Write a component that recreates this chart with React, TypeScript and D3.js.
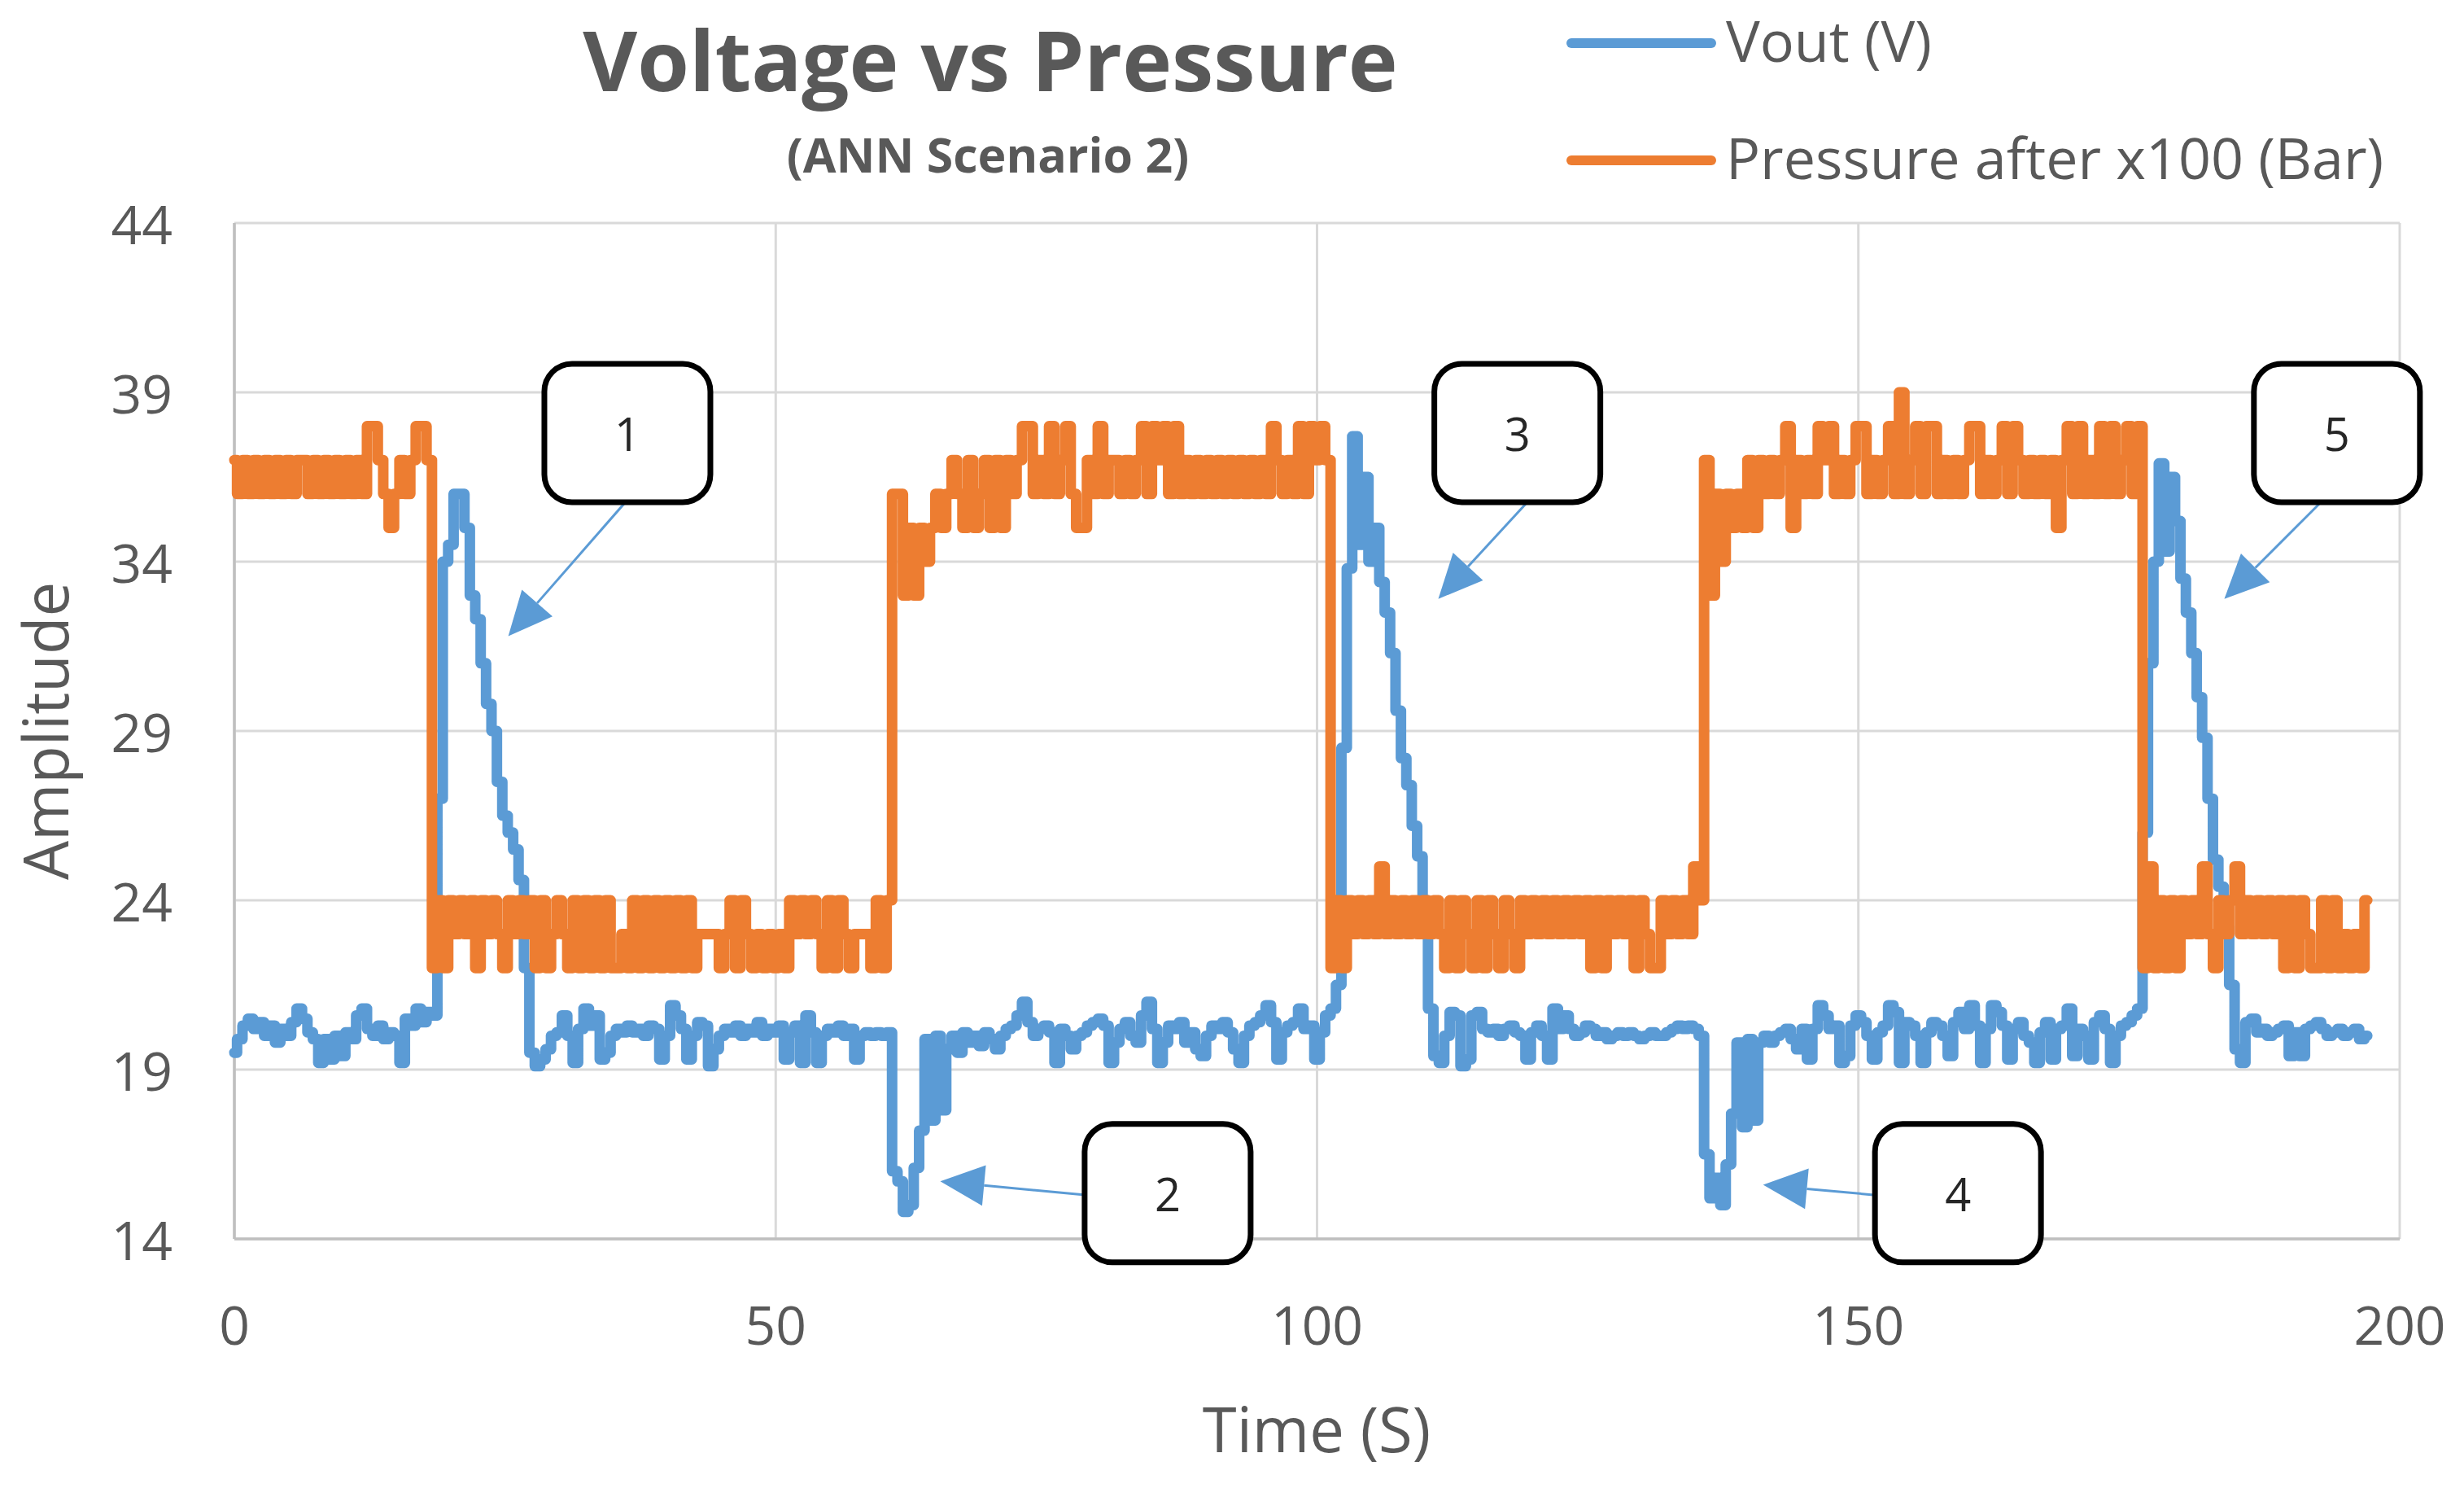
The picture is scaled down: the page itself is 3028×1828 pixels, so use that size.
import React from 'react';
import * as d3 from 'd3';

const W = 3028;
const H = 1828;

// sampling interval of the recorded series (seconds)
const T_STEP = 0.5;

const xTicks = [0, 50, 100, 150, 200];
const yTicks = [14, 19, 24, 29, 34, 39, 44];

const seriesNames = ['Vout (V)', 'Pressure after x100 (Bar)'];
const seriesColors = ['#5b9bd5', '#ed7d31'];

// Vout (V), one value every 0.5 s from t = 0 to t = 197
const vout = [
  19.5, 19.9, 20.3, 20.5, 20.2, 20.4, 20.0, 20.3, 19.8, 20.2,
  20.0, 20.4, 20.8, 20.5, 20.1, 19.9, 19.2, 19.9, 19.3, 20.0,
  19.4, 20.1, 19.9, 20.6, 20.8, 20.2, 20.0, 20.3, 19.9, 20.1,
  20.0, 19.2, 20.5, 20.3, 20.8, 20.4, 20.7, 20.6, 27.0, 34.0,
  34.5, 36.0, 36.0, 35.0, 33.0, 32.3, 31.0, 29.8, 29.0, 27.5,
  26.5, 26.0, 25.5, 24.6, 22.0, 19.5, 19.1, 19.3, 19.6, 20.0,
  20.1, 20.6, 20.0, 19.2, 20.2, 20.8, 20.3, 20.6, 19.3, 19.5,
  20.0, 20.2, 20.1, 20.3, 20.1, 20.2, 20.0, 20.3, 20.2, 19.3,
  20.0, 20.9, 20.6, 20.2, 19.3, 20.0, 20.4, 20.3, 19.1, 19.6,
  20.0, 20.2, 20.1, 20.3, 20.0, 20.2, 20.1, 20.4, 20.0, 20.2,
  20.1, 20.3, 19.3, 20.1, 20.3, 19.2, 20.6, 20.1, 19.2, 20.0,
  20.2, 20.1, 20.3, 20.0, 20.2, 19.3, 20.0, 20.1, 20.0, 20.1,
  20.0, 20.1, 16.0, 15.7, 14.8, 15.0, 16.1, 17.2, 19.9, 17.5,
  20.0, 17.8, 19.6, 20.0, 19.5, 20.1, 19.8, 20.0, 19.7, 20.1,
  19.9, 19.6, 20.0, 20.2, 20.3, 20.6, 21.0, 20.4, 20.0, 20.2,
  20.3, 20.1, 19.2, 20.2, 20.0, 19.6, 20.0, 20.1, 20.3, 20.4,
  20.5, 20.3, 19.2, 19.8, 20.2, 20.4, 20.0, 19.8, 20.6, 21.0,
  20.2, 19.2, 19.8, 20.3, 20.2, 20.4, 19.8, 20.1, 19.6, 19.4,
  20.0, 20.3, 20.2, 20.4, 20.1, 19.6, 19.2, 20.0, 20.3, 20.4,
  20.6, 20.9, 20.4, 19.3, 20.1, 20.3, 20.4, 20.8, 20.2, 20.3,
  19.3, 20.1, 20.6, 20.8, 21.5, 28.5, 33.8, 37.7, 34.5, 36.5,
  34.0, 35.0, 33.4, 32.5, 31.3, 29.6, 28.2, 27.4, 26.2, 25.3,
  24.0, 20.8, 19.4, 19.2, 20.0, 20.7, 20.6, 19.1, 19.3, 20.6,
  20.7, 20.2, 20.1, 20.2, 20.0, 20.2, 20.3, 20.1, 20.0, 19.3,
  20.1, 20.3, 20.0, 19.3, 20.8, 20.2, 20.6, 20.2, 20.0, 20.1,
  20.3, 20.2, 20.0, 20.1, 19.9, 20.0, 20.1, 20.0, 20.1, 20.0,
  19.9, 20.0, 20.1, 20.0, 20.0, 20.1, 20.2, 20.3, 20.2, 20.3,
  20.2, 20.0, 16.5, 15.2, 15.8, 15.0, 16.2, 17.7, 19.8, 17.3,
  19.9, 17.5, 19.8, 20.0, 19.8, 20.0, 20.1, 20.2, 19.9, 19.6,
  20.2, 19.3, 20.2, 20.9, 20.6, 20.2, 20.3, 19.2, 19.4, 20.3,
  20.6, 20.4, 20.0, 19.3, 20.1, 20.3, 20.9, 20.7, 19.2, 20.4,
  20.3, 20.0, 19.2, 20.1, 20.4, 20.3, 20.0, 19.4, 20.4, 20.7,
  20.2, 20.9, 20.3, 19.2, 20.2, 20.9, 20.7, 20.3, 19.3, 20.2,
  20.4, 20.0, 19.8, 19.2, 20.1, 20.4, 19.3, 20.2, 20.3, 20.8,
  19.4, 20.2, 20.0, 19.3, 20.4, 20.6, 20.2, 19.2, 20.0, 20.3,
  20.4, 20.6, 20.8, 26.0, 31.0, 34.0, 36.9, 34.3, 36.5, 35.2,
  33.5, 32.5, 31.3, 30.0, 28.8, 27.0, 25.2, 24.4, 23.2, 21.5,
  19.6, 19.2, 20.4, 20.5, 20.1, 20.2, 20.0, 20.1, 20.2, 20.3,
  19.4, 20.1, 19.4, 20.2, 20.3, 20.4, 20.2, 20.0, 20.1, 20.2,
  20.0, 20.1, 20.2, 19.9, 20.0,
];

// Pressure after x100 (Bar), one value every 0.5 s from t = 0 to t = 197
const pressure = [
  37, 36, 37, 36, 37, 36, 37, 36, 37, 36,
  37, 36, 37, 37, 36, 37, 36, 37, 36, 37,
  36, 37, 36, 37, 36, 38, 38, 37, 36, 35,
  36, 37, 36, 37, 38, 38, 37, 22, 24, 22,
  24, 23, 24, 23, 24, 22, 24, 23, 24, 23,
  22, 24, 23, 24, 23, 24, 22, 24, 22, 23,
  24, 23, 22, 24, 22, 24, 22, 24, 22, 24,
  22, 22, 23, 22, 24, 22, 24, 22, 24, 22,
  24, 22, 24, 22, 24, 22, 23, 23, 23, 23,
  22, 23, 24, 22, 24, 23, 22, 23, 22, 23,
  22, 23, 22, 24, 23, 24, 23, 24, 23, 22,
  24, 22, 24, 23, 22, 23, 23, 23, 22, 24,
  22, 24, 36, 36, 33, 35, 33, 35, 34, 35,
  36, 35, 36, 37, 36, 35, 37, 35, 36, 37,
  35, 37, 35, 37, 36, 37, 38, 38, 36, 37,
  36, 38, 36, 37, 38, 36, 35, 35, 37, 36,
  38, 36, 37, 37, 36, 37, 36, 37, 38, 36,
  38, 37, 38, 36, 38, 36, 37, 36, 37, 36,
  37, 36, 37, 36, 37, 36, 37, 36, 37, 36,
  37, 36, 38, 37, 36, 37, 36, 38, 36, 38,
  37, 38, 37, 22, 24, 22, 24, 23, 24, 23,
  24, 23, 25, 23, 24, 23, 24, 23, 24, 23,
  24, 23, 24, 23, 22, 24, 22, 24, 23, 22,
  24, 22, 24, 23, 22, 24, 23, 22, 24, 23,
  24, 23, 24, 23, 24, 23, 24, 23, 24, 23,
  24, 22, 24, 22, 24, 23, 24, 23, 24, 22,
  24, 23, 22, 22, 24, 23, 24, 23, 24, 23,
  25, 24, 37, 33, 36, 34, 36, 35, 36, 35,
  37, 35, 37, 36, 37, 36, 37, 38, 35, 37,
  36, 37, 36, 38, 37, 38, 36, 37, 36, 37,
  38, 38, 36, 37, 36, 37, 38, 36, 39, 36,
  37, 38, 36, 38, 38, 36, 37, 36, 37, 36,
  37, 38, 38, 36, 37, 36, 37, 38, 36, 38,
  37, 36, 37, 36, 37, 36, 37, 35, 37, 38,
  36, 38, 36, 37, 36, 38, 36, 38, 36, 37,
  38, 36, 38, 22, 25, 22, 24, 22, 24, 22,
  24, 23, 24, 23, 25, 23, 22, 24, 23, 24,
  25, 23, 24, 23, 24, 23, 24, 23, 24, 22,
  24, 22, 24, 23, 22, 22, 24, 22, 24, 22,
  23, 22, 23, 22, 24,
];

// numbered callouts (data coordinates: time, amplitude)
const calloutLabels = ['1', '2', '3', '4', '5'];
const calloutCenterT = [36.3, 86.2, 118.5, 159.2, 194.2];
const calloutCenterV = [37.8, 15.35, 37.8, 15.35, 37.8];
const arrowFromT = [36.1, 78.6, 119.4, 151.4, 192.7];
const arrowFromV = [35.75, 15.3, 35.75, 15.3, 35.75];
const arrowTipT = [25.3, 65.2, 111.2, 141.2, 183.8];
const arrowTipV = [31.8, 15.7, 32.9, 15.6, 32.9];

const FONT = "'Open Sans', 'Segoe UI', 'DejaVu Sans', sans-serif";
const TEXT_GRAY = '#595959';

export default function App() {
  const x = d3.scaleLinear().domain([0, 200]).range([288, 2949]);
  const y = d3.scaleLinear().domain([14, 44]).range([1522, 274]);

  const line = d3
    .line<number>()
    .x((_, i) => x(i * T_STEP))
    .y((d) => y(d))
    .curve(d3.curveStep);

  const [plotL, plotR] = x.range();
  const [plotB, plotT] = y.range();

  const boxW = 204;
  const boxH = 170;
  const headLen = 54;
  const headHalf = 25;

  return (
    <svg
      width={W}
      height={H}
      viewBox={`0 0 ${W} ${H}`}
      style={{ position: 'absolute', left: 0, top: 0, background: '#fff', display: 'block' }}
    >
      <rect x={0} y={0} width={W} height={H} fill="#fff" />

      {/* gridlines */}
      {yTicks.map((t) => (
        <line key={'gy' + t} x1={plotL} x2={plotR} y1={y(t)} y2={y(t)} stroke="#d9d9d9" strokeWidth={3} />
      ))}
      {xTicks.map((t) => (
        <line key={'gx' + t} x1={x(t)} x2={x(t)} y1={plotT} y2={plotB} stroke="#d9d9d9" strokeWidth={3} />
      ))}
      <line x1={plotL} x2={plotL} y1={plotT} y2={plotB} stroke="#bfbfbf" strokeWidth={3.5} />
      <line x1={plotL} x2={plotR} y1={plotB} y2={plotB} stroke="#bfbfbf" strokeWidth={3.5} />

      {/* y tick labels */}
      {yTicks.map((t) => (
        <text
          key={'ly' + t}
          x={212}
          y={y(t)}
          textAnchor="end"
          dominantBaseline="central"
          fontFamily={FONT}
          fontSize={66}
          fill={TEXT_GRAY}
        >
          {t}
        </text>
      ))}
      {/* x tick labels */}
      {xTicks.map((t) => (
        <text
          key={'lx' + t}
          x={x(t)}
          y={1652}
          textAnchor="middle"
          fontFamily={FONT}
          fontSize={66}
          fill={TEXT_GRAY}
        >
          {t}
        </text>
      ))}

      {/* axis titles */}
      <text x={1618} y={1784} textAnchor="middle" fontFamily={FONT} fontSize={76} fill={TEXT_GRAY}>
        Time (S)
      </text>
      <text
        transform={`translate(84, ${(plotT + plotB) / 2}) rotate(-90)`}
        textAnchor="middle"
        fontFamily={FONT}
        fontSize={76}
        fill={TEXT_GRAY}
      >
        Amplitude
      </text>

      {/* title */}
      <text x={1217} y={112} textAnchor="middle" fontFamily={FONT} fontWeight={700} fontSize={103} fill={TEXT_GRAY}>
        Voltage vs Pressure
      </text>
      <text x={1214} y={212} textAnchor="middle" fontFamily={FONT} fontWeight={700} fontSize={59} fill={TEXT_GRAY}>
        (ANN Scenario 2)
      </text>

      {/* series */}
      <path
        d={line(vout) || ''}
        fill="none"
        stroke={seriesColors[0]}
        strokeWidth={13}
        strokeLinejoin="round"
        strokeLinecap="round"
      />
      <path
        d={line(pressure) || ''}
        fill="none"
        stroke={seriesColors[1]}
        strokeWidth={13}
        strokeLinejoin="round"
        strokeLinecap="round"
      />

      {/* legend */}
      {seriesNames.map((name, i) => {
        const ly = 53 + i * 144;
        return (
          <g key={name}>
            <line x1={1931} x2={2103} y1={ly} y2={ly} stroke={seriesColors[i]} strokeWidth={12} strokeLinecap="round" />
            <text x={2121} y={ly + 23} fontFamily={FONT} fontSize={70} fill={TEXT_GRAY}>
              {name}
            </text>
          </g>
        );
      })}

      {/* callouts */}
      {calloutLabels.map((lab, i) => {
        const cx = x(calloutCenterT[i]);
        const cy = y(calloutCenterV[i]);
        const sx = x(arrowFromT[i]);
        const sy = y(arrowFromV[i]);
        const tx = x(arrowTipT[i]);
        const ty = y(arrowTipV[i]);
        const dx = tx - sx;
        const dy = ty - sy;
        const len = Math.hypot(dx, dy);
        const ux = dx / len;
        const uy = dy / len;
        const bx = tx - ux * headLen;
        const by = ty - uy * headLen;
        const px = -uy;
        const py = ux;
        const pts = [
          [tx, ty],
          [bx + px * headHalf, by + py * headHalf],
          [bx - px * headHalf, by - py * headHalf],
        ]
          .map((p) => p.join(','))
          .join(' ');
        return (
          <g key={'c' + lab}>
            <line x1={sx} y1={sy} x2={bx} y2={by} stroke="#5b9bd5" strokeWidth={3} />
            <polygon points={pts} fill="#5b9bd5" />
            <rect
              x={cx - boxW / 2}
              y={cy - boxH / 2}
              width={boxW}
              height={boxH}
              rx={34}
              ry={34}
              fill="#fff"
              stroke="#000"
              strokeWidth={7}
            />
            <text
              x={cx}
              y={cy}
              textAnchor="middle"
              dominantBaseline="central"
              fontFamily={FONT}
              fontSize={56}
              fill="#262626"
            >
              {lab}
            </text>
          </g>
        );
      })}
    </svg>
  );
}
